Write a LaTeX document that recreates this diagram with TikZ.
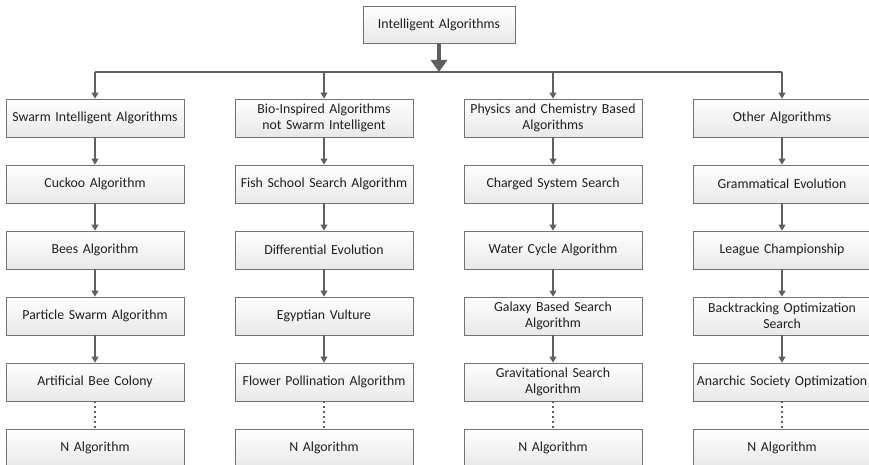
\documentclass[tikz,border=0pt]{standalone}
\usepackage{fontspec}
\setmainfont{Carlito}
\usepackage{tikz}
\usetikzlibrary{arrows.meta,shadows}
\definecolor{boxline}{RGB}{115,115,115}
\definecolor{arrcol}{RGB}{95,95,95}
\tikzstyle{block} = [rectangle, draw=boxline, line width=0.8pt, top color=white, bottom color=black!9, drop shadow={shadow xshift=0.9pt, shadow yshift=-0.9pt, opacity=0.25}, text=black!88, text width=176pt, align=center, inner sep=1pt, minimum height=38pt, font=\fontsize{13.8}{16.5}\selectfont]

\begin{document}
\begin{tikzpicture}[>={Triangle[width=7pt,length=6pt]}, every edge/.style={draw=arrcol, line width=1.1pt}]
  \useasboundingbox (0pt, 0pt) rectangle (869pt, -465pt);
  \draw (439.0pt, -24.5pt)node[block, text width=150pt, minimum height=37pt](0){Intelligent Algorithms};
  % swarm intelligent column
  \draw (95.0pt, -118.0pt)node[block](s1){Swarm Intelligent Algorithms};
  \draw (95.0pt, -184.0pt)node[block](s2){Cuckoo Algorithm};
  \draw (95.0pt, -250.0pt)node[block](s3){Bees Algorithm};
  \draw (95.0pt, -316.0pt)node[block](s4){Particle Swarm Algorithm};
  \draw (95.0pt, -382.0pt)node[block](s5){Artificial Bee Colony};
  \draw (95.0pt, -448.0pt)node[block](s6){N Algorithm};
  % bio-inspired column
  \draw (324.0pt, -118.0pt)node[block](b1){Bio-Inspired Algorithms\\not Swarm Intelligent};
  \draw (324.0pt, -184.0pt)node[block](b2){Fish School Search Algorithm};
  \draw (324.0pt, -250.0pt)node[block](b3){Differential Evolution};
  \draw (324.0pt, -316.0pt)node[block](b4){Egyptian Vulture};
  \draw (324.0pt, -382.0pt)node[block](b5){Flower Pollination Algorithm};
  \draw (324.0pt, -448.0pt)node[block](b6){N Algorithm};
  % physics and chemistry column
  \draw (553.0pt, -118.0pt)node[block](p1){Physics and Chemistry Based\\Algorithms};
  \draw (553.0pt, -184.0pt)node[block](p2){Charged System Search};
  \draw (553.0pt, -250.0pt)node[block](p3){Water Cycle Algorithm};
  \draw (553.0pt, -316.0pt)node[block](p4){Galaxy Based Search\\Algorithm};
  \draw (553.0pt, -382.0pt)node[block](p5){Gravitational Search\\Algorithm};
  \draw (553.0pt, -448.0pt)node[block](p6){N Algorithm};
  % other column
  \draw (782.0pt, -118.0pt)node[block](o1){Other Algorithms};
  \draw (782.0pt, -184.0pt)node[block](o2){Grammatical Evolution};
  \draw (782.0pt, -250.0pt)node[block](o3){League Championship};
  \draw (782.0pt, -316.0pt)node[block](o4){Backtracking Optimization\\Search};
  \draw (782.0pt, -382.0pt)node[block](o5){Anarchic Society Optimization};
  \draw (782.0pt, -448.0pt)node[block](o6){N Algorithm};
  % branch line
  \coordinate (j) at (439.0pt, -72.0pt);
  \coordinate (j1) at (95.0pt, -72.0pt);
  \coordinate (j2) at (324.0pt, -72.0pt);
  \coordinate (j3) at (553.0pt, -72.0pt);
  \coordinate (j4) at (782.0pt, -72.0pt);
  \draw[arrcol, line width=1.1pt] (j1) -- (j4);
  \path[-{Triangle[width=16pt,length=12pt]}] (0) edge[line width=4pt] (j);
  \path[->] (j1) edge (s1);
  \path[->] (j2) edge (b1);
  \path[->] (j3) edge (p1);
  \path[->] (j4) edge (o1);
  \path[->] (s1) edge (s2);
  \path[->] (s2) edge (s3);
  \path[->] (s3) edge (s4);
  \path[->] (s4) edge (s5);
  \path[->] (b1) edge (b2);
  \path[->] (b2) edge (b3);
  \path[->] (b3) edge (b4);
  \path[->] (b4) edge (b5);
  \path[->] (p1) edge (p2);
  \path[->] (p2) edge (p3);
  \path[->] (p3) edge (p4);
  \path[->] (p4) edge (p5);
  \path[->] (o1) edge (o2);
  \path[->] (o2) edge (o3);
  \path[->] (o3) edge (o4);
  \path[->] (o4) edge (o5);
  \path (s5) edge[dash pattern=on 1.5pt off 3.5pt] (s6);
  \path (b5) edge[dash pattern=on 1.5pt off 3.5pt] (b6);
  \path (p5) edge[dash pattern=on 1.5pt off 3.5pt] (p6);
  \path (o5) edge[dash pattern=on 1.5pt off 3.5pt] (o6);
\end{tikzpicture}
\end{document}
